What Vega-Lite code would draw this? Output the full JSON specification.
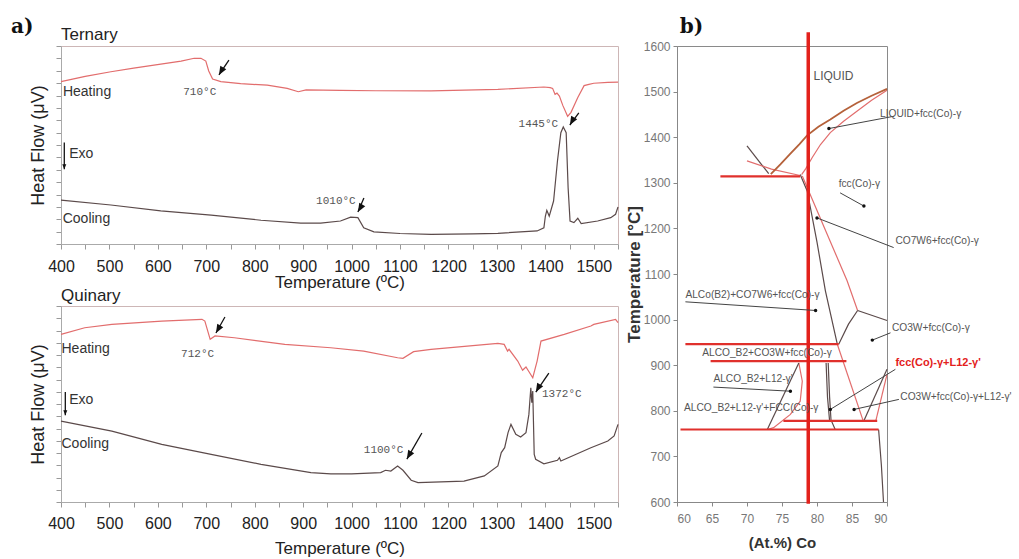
{
"$schema": "https://vega.github.io/schema/vega-lite/v6.json",
"padding": {"left": 10, "top": 16, "right": 2, "bottom": 2},
"spacing": 3,
"config": {"font": "Liberation Sans", "axis": {"grid": false}},
"datasets": {
"tern": [
{"T":400,"v":82.0,"run":"heating"},{"T":450,"v":84.7,"run":"heating"},{"T":503,"v":87.0,"run":"heating"},{"T":550,"v":88.8,"run":"heating"},{"T":606,"v":90.8,"run":"heating"},{"T":648,"v":92.4,"run":"heating"},{"T":675,"v":93.8,"run":"heating"},{"T":689,"v":93.8,"run":"heating"},{"T":699,"v":92.4,"run":"heating"},{"T":705,"v":87.4,"run":"heating"},{"T":713,"v":83.3,"run":"heating"},{"T":730,"v":82.0,"run":"heating"},{"T":771,"v":81.0,"run":"heating"},{"T":826,"v":80.2,"run":"heating"},{"T":867,"v":78.6,"run":"heating"},{"T":890,"v":76.9,"run":"heating"},{"T":906,"v":77.8,"run":"heating"},{"T":976,"v":77.6,"run":"heating"},{"T":1050,"v":77.4,"run":"heating"},{"T":1164,"v":77.3,"run":"heating"},{"T":1302,"v":78.1,"run":"heating"},{"T":1397,"v":79.3,"run":"heating"},{"T":1410,"v":79.0,"run":"heating"},{"T":1415,"v":78.6,"run":"heating"},{"T":1420,"v":75.6,"run":"heating"},{"T":1424,"v":76.2,"run":"heating"},{"T":1429,"v":74.7,"run":"heating"},{"T":1436,"v":70.0,"run":"heating"},{"T":1446,"v":64.5,"run":"heating"},{"T":1453,"v":66.5,"run":"heating"},{"T":1467,"v":74.0,"run":"heating"},{"T":1480,"v":80.0,"run":"heating"},{"T":1490,"v":80.6,"run":"heating"},{"T":1500,"v":81.2,"run":"heating"},{"T":1529,"v":81.6,"run":"heating"},{"T":1550,"v":81.8,"run":"heating"},
{"T":400,"v":22.2,"run":"cooling"},{"T":503,"v":19.7,"run":"cooling"},{"T":606,"v":16.7,"run":"cooling"},{"T":710,"v":14.6,"run":"cooling"},{"T":813,"v":12.0,"run":"cooling"},{"T":895,"v":10.5,"run":"cooling"},{"T":936,"v":10.5,"run":"cooling"},{"T":977,"v":11.6,"run":"cooling"},{"T":998,"v":13.6,"run":"cooling"},{"T":1013,"v":13.3,"run":"cooling"},{"T":1025,"v":8.2,"run":"cooling"},{"T":1046,"v":6.1,"run":"cooling"},{"T":1100,"v":5.3,"run":"cooling"},{"T":1164,"v":4.9,"run":"cooling"},{"T":1250,"v":5.1,"run":"cooling"},{"T":1302,"v":5.4,"run":"cooling"},{"T":1383,"v":6.6,"run":"cooling"},{"T":1397,"v":8.2,"run":"cooling"},{"T":1400,"v":14.0,"run":"cooling"},{"T":1403,"v":17.0,"run":"cooling"},{"T":1408,"v":14.1,"run":"cooling"},{"T":1417,"v":21.7,"run":"cooling"},{"T":1425,"v":41.9,"run":"cooling"},{"T":1432,"v":56.2,"run":"cooling"},{"T":1437,"v":59.1,"run":"cooling"},{"T":1443,"v":56.2,"run":"cooling"},{"T":1447,"v":28.4,"run":"cooling"},{"T":1451,"v":11.6,"run":"cooling"},{"T":1459,"v":10.8,"run":"cooling"},{"T":1467,"v":13.0,"run":"cooling"},{"T":1474,"v":10.3,"run":"cooling"},{"T":1508,"v":11.6,"run":"cooling"},{"T":1535,"v":13.3,"run":"cooling"},{"T":1545,"v":15.0,"run":"cooling"},{"T":1550,"v":18.7,"run":"cooling"}
],
"quin": [
{"T":400,"v":85.5,"run":"heating"},{"T":449,"v":88.9,"run":"heating"},{"T":505,"v":90.6,"run":"heating"},{"T":608,"v":92.3,"run":"heating"},{"T":691,"v":93.2,"run":"heating"},{"T":697,"v":92.3,"run":"heating"},{"T":708,"v":83.0,"run":"heating"},{"T":718,"v":84.7,"run":"heating"},{"T":758,"v":83.8,"run":"heating"},{"T":862,"v":80.4,"run":"heating"},{"T":957,"v":78.7,"run":"heating"},{"T":1025,"v":77.0,"run":"heating"},{"T":1095,"v":73.6,"run":"heating"},{"T":1106,"v":73.3,"run":"heating"},{"T":1128,"v":76.7,"run":"heating"},{"T":1164,"v":77.9,"run":"heating"},{"T":1302,"v":80.9,"run":"heating"},{"T":1315,"v":80.4,"run":"heating"},{"T":1322,"v":77.0,"run":"heating"},{"T":1325,"v":77.9,"run":"heating"},{"T":1343,"v":71.9,"run":"heating"},{"T":1353,"v":67.2,"run":"heating"},{"T":1360,"v":68.9,"run":"heating"},{"T":1374,"v":63.4,"run":"heating"},{"T":1383,"v":71.9,"run":"heating"},{"T":1391,"v":82.1,"run":"heating"},{"T":1439,"v":85.5,"run":"heating"},{"T":1494,"v":89.8,"run":"heating"},{"T":1500,"v":90.6,"run":"heating"},{"T":1545,"v":93.2,"run":"heating"},{"T":1550,"v":91.5,"run":"heating"},
{"T":400,"v":41.3,"run":"cooling"},{"T":505,"v":36.2,"run":"cooling"},{"T":608,"v":29.4,"run":"cooling"},{"T":710,"v":24.3,"run":"cooling"},{"T":813,"v":19.2,"run":"cooling"},{"T":916,"v":15.0,"run":"cooling"},{"T":957,"v":14.4,"run":"cooling"},{"T":1000,"v":14.3,"run":"cooling"},{"T":1060,"v":15.0,"run":"cooling"},{"T":1070,"v":16.2,"run":"cooling"},{"T":1081,"v":15.8,"run":"cooling"},{"T":1095,"v":18.4,"run":"cooling"},{"T":1106,"v":16.2,"run":"cooling"},{"T":1123,"v":11.1,"run":"cooling"},{"T":1137,"v":9.9,"run":"cooling"},{"T":1232,"v":10.7,"run":"cooling"},{"T":1274,"v":13.3,"run":"cooling"},{"T":1302,"v":18.4,"run":"cooling"},{"T":1309,"v":25.2,"run":"cooling"},{"T":1316,"v":27.7,"run":"cooling"},{"T":1323,"v":35.4,"run":"cooling"},{"T":1329,"v":39.6,"run":"cooling"},{"T":1339,"v":34.5,"run":"cooling"},{"T":1349,"v":33.2,"run":"cooling"},{"T":1360,"v":35.4,"run":"cooling"},{"T":1366,"v":44.7,"run":"cooling"},{"T":1370,"v":58.3,"run":"cooling"},{"T":1372,"v":50.7,"run":"cooling"},{"T":1374,"v":56.6,"run":"cooling"},{"T":1377,"v":24.3,"run":"cooling"},{"T":1380,"v":21.8,"run":"cooling"},{"T":1397,"v":19.5,"run":"cooling"},{"T":1425,"v":21.3,"run":"cooling"},{"T":1429,"v":22.6,"run":"cooling"},{"T":1432,"v":20.9,"run":"cooling"},{"T":1494,"v":27.7,"run":"cooling"},{"T":1529,"v":31.1,"run":"cooling"},{"T":1542,"v":33.7,"run":"cooling"},{"T":1550,"v":39.6,"run":"cooling"}
],
"tern_arr": [
{"T":726.1,"v":85.4,"T2":746.7,"v2":92.9,"k":"p"},{"T":1013,"v":16.2,"T2":1025.4,"v2":23.2,"k":"p"},{"T":1450.6,"v":60.1,"T2":1469.1,"v2":66.2,"k":"p"},{"T":406.8,"v":37.7,"T2":406.8,"v2":51.2,"k":"e"}
],
"quin_arr": [
{"T":719.9,"v":86.2,"T2":738.5,"v2":94.4,"k":"p"},{"T":1114.1,"v":21.9,"T2":1145.1,"v2":35.2,"k":"p"},{"T":1380.4,"v":56.1,"T2":1407.2,"v2":65.8,"k":"p"},{"T":408.9,"v":44.2,"T2":408.9,"v2":56.1,"k":"e"}
],
"tern_txt": [
{"T":404,"v":76.6,"text":"Heating","k":"s"},{"T":403.5,"v":12.6,"text":"Cooling","k":"s"},{"T":417,"v":45.5,"text":"Exo","k":"s"},
{"T":686.5,"v":76.9,"text":"710°C","k":"t"},{"T":967.6,"v":21.5,"text":"1010°C","k":"t"},{"T":1385.5,"v":60.5,"text":"1445°C","k":"t"},
{"T":400,"v":102.8,"text":"Ternary","k":"h"},{"T":296.8,"v":106.6,"text":"a)","k":"l"}
],
"quin_txt": [
{"T":401,"v":77.9,"text":"Heating","k":"s"},{"T":401,"v":29.8,"text":"Cooling","k":"s"},{"T":417,"v":51.8,"text":"Exo","k":"s"},
{"T":682,"v":75.5,"text":"712°C","k":"t"},{"T":1066,"v":26.5,"text":"1100°C","k":"t"},{"T":1434,"v":54.9,"text":"1372°C","k":"t"},
{"T":400,"v":102.3,"text":"Quinary","k":"h"}
],
"pd": [
{"s":"liq","kind":"liq","i":0,"x":73.4,"y":1319},{"s":"liq","kind":"liq","i":1,"x":74.8,"y":1341},{"s":"liq","kind":"liq","i":2,"x":76.2,"y":1364},{"s":"liq","kind":"liq","i":3,"x":77.5,"y":1385},{"s":"liq","kind":"liq","i":4,"x":78.6,"y":1404},{"s":"liq","kind":"liq","i":5,"x":80.2,"y":1423},{"s":"liq","kind":"liq","i":6,"x":81.9,"y":1439},{"s":"liq","kind":"liq","i":7,"x":83.8,"y":1458},{"s":"liq","kind":"liq","i":8,"x":85.7,"y":1475},{"s":"liq","kind":"liq","i":9,"x":87.8,"y":1491},{"s":"liq","kind":"liq","i":10,"x":90,"y":1506},
{"s":"sol","kind":"sol","i":0,"x":77.8,"y":1318},{"s":"sol","kind":"sol","i":1,"x":78.4,"y":1331},{"s":"sol","kind":"sol","i":2,"x":79.3,"y":1355},{"s":"sol","kind":"sol","i":3,"x":80.5,"y":1384},{"s":"sol","kind":"sol","i":4,"x":81.9,"y":1410},{"s":"sol","kind":"sol","i":5,"x":83.8,"y":1435},{"s":"sol","kind":"sol","i":6,"x":85.7,"y":1457},{"s":"sol","kind":"sol","i":7,"x":87.8,"y":1481},{"s":"sol","kind":"sol","i":8,"x":90,"y":1503},
{"s":"g1","kind":"gray","i":0,"x":70,"y":1381},{"s":"g1","kind":"gray","i":1,"x":73.1,"y":1320},
{"s":"g2","kind":"gray","i":0,"x":77.6,"y":1318},{"s":"g2","kind":"gray","i":1,"x":78.6,"y":1282},{"s":"g2","kind":"gray","i":2,"x":80.0,"y":1170},{"s":"g2","kind":"gray","i":3,"x":81.2,"y":1063},{"s":"g2","kind":"gray","i":4,"x":82.9,"y":946},
{"s":"g3","kind":"gray","i":0,"x":88.8,"y":759},{"s":"g3","kind":"gray","i":1,"x":89.2,"y":680},{"s":"g3","kind":"gray","i":2,"x":89.5,"y":600},
{"s":"g4","kind":"gray","i":0,"x":81.3,"y":905},{"s":"g4","kind":"gray","i":1,"x":81.5,"y":830},{"s":"g4","kind":"gray","i":2,"x":81.8,"y":778},
{"s":"r1","kind":"red","i":0,"x":70,"y":1348},{"s":"r1","kind":"red","i":1,"x":73.5,"y":1330},{"s":"r1","kind":"red","i":2,"x":77.6,"y":1316},
{"s":"r2","kind":"red","i":0,"x":77.9,"y":1315},{"s":"r2","kind":"red","i":1,"x":81.1,"y":1200},{"s":"r2","kind":"red","i":2,"x":84.3,"y":1085},{"s":"r2","kind":"red","i":3,"x":85.8,"y":1020},
{"s":"r3","kind":"red","i":0,"x":77.4,"y":905},{"s":"r3","kind":"red","i":1,"x":77.9,"y":865},{"s":"r3","kind":"red","i":2,"x":77.6,"y":821},{"s":"r3","kind":"red","i":3,"x":76.2,"y":792},{"s":"r3","kind":"red","i":4,"x":73.8,"y":763},{"s":"r3","kind":"red","i":5,"x":72.9,"y":759},
{"s":"p1","kind":"pink","i":0,"x":86.7,"y":778},{"s":"p1","kind":"pink","i":1,"x":90,"y":891},
{"s":"r5","kind":"red","i":0,"x":88.4,"y":778},{"s":"r5","kind":"red","i":1,"x":90,"y":880},
{"s":"y1","kind":"yg","i":0,"x":72.9,"y":759},{"s":"y1","kind":"yg","i":1,"x":77.4,"y":905},
{"s":"y2","kind":"yg","i":0,"x":81.6,"y":905},{"s":"y2","kind":"yg","i":1,"x":81.8,"y":830},{"s":"y2","kind":"yg","i":2,"x":82.0,"y":780},{"s":"y2","kind":"yg","i":3,"x":82.6,"y":759},
{"s":"y3","kind":"yg","i":0,"x":83.1,"y":946},{"s":"y3","kind":"yg","i":1,"x":84.5,"y":990},{"s":"y3","kind":"yg","i":2,"x":85.8,"y":1020},
{"s":"y4","kind":"yg","i":0,"x":85.8,"y":1020},{"s":"y4","kind":"yg","i":1,"x":90,"y":998},
{"s":"b1","kind":"blue","i":0,"x":82.9,"y":946},{"s":"b1","kind":"blue","i":1,"x":86.6,"y":778}
],
"pd_iso": [
{"s":"h1","x":66.2,"y":1314},{"s":"h1","x":77.6,"y":1314},
{"s":"h2","x":61.2,"y":946},{"s":"h2","x":83.1,"y":946},
{"s":"h3","x":64.8,"y":909},{"s":"h3","x":84.2,"y":909},
{"s":"h4","x":75.2,"y":778},{"s":"h4","x":88.6,"y":778},
{"s":"h5","x":60.5,"y":759},{"s":"h5","x":88.8,"y":759}
],
"pd_vert": [{"x":78.75,"y":596},{"x":78.75,"y":1630}],
"pd_lead": [
{"x":81.7,"y":1419,"x2":91,"y2":1446},{"x":86.7,"y":1249,"x2":83.3,"y2":1278},{"x":80,"y":1223,"x2":90.95,"y2":1158},{"x":79.8,"y":1020,"x2":61.2,"y2":1039},{"x":87.9,"y":955,"x2":90.5,"y2":971},{"x":81.9,"y":803,"x2":91.2,"y2":891},{"x":76.2,"y":843,"x2":65.2,"y2":852},{"x":85.3,"y":803,"x2":91.7,"y2":825}
],
"pd_txt": [
{"x":79.5,"y":1534,"text":"LIQUID","k":"L"},
{"x":89.0,"y":1450,"text":"LIQUID+fcc(Co)-γ","k":"n"},{"x":83.1,"y":1297,"text":"fcc(Co)-γ","k":"n"},{"x":91.2,"y":1172,"text":"CO7W6+fcc(Co)-γ","k":"n"},{"x":61.2,"y":1054,"text":"ALCo(B2)+CO7W6+fcc(Co)-γ","k":"n"},{"x":90.7,"y":982,"text":"CO3W+fcc(Co)-γ","k":"n"},{"x":63.6,"y":927,"text":"ALCO_B2+CO3W+fcc(Co)-γ","k":"n"},{"x":65.2,"y":869,"text":"ALCO_B2+L12-γ'","k":"n"},{"x":61,"y":807,"text":"ALCO_B2+L12-γ'+FCC(Co)-γ","k":"n"},{"x":91.9,"y":830,"text":"CO3W+fcc(Co)-γ+L12-γ'","k":"n"},
{"x":91.2,"y":905,"text":"fcc(Co)-γ+L12-γ'","k":"r"},
{"x":60.4,"y":1628.5,"text":"b)","k":"b"}
]
},
"hconcat": [
{"vconcat": [
 {"width": 557, "height": 198, "view": {"stroke": "#cdb6b6"},
  "encoding": {
   "x": {"field": "T", "type": "quantitative", "scale": {"domain": [400, 1550], "nice": false, "zero": false},
     "axis": {"title": "Temperature (ºC)", "values": [400,450,500,550,600,650,700,750,800,850,900,950,1000,1050,1100,1150,1200,1250,1300,1350,1400,1450,1500,1550], "format": "d", "labelExpr": "datum.value % 100 === 0 ? datum.label : ''", "labelOverlap": false, "labelFlush": false, "labelBound": false, "labelFontSize": 16, "labelColor": "#222", "labelPadding": 9, "tickSize": 5, "tickColor": "#999", "domainColor": "#aaa", "titleFontSize": 17, "titleFontWeight": "normal", "titleColor": "#222", "titlePadding": 0}},
   "y": {"field": "v", "type": "quantitative", "scale": {"domain": [0, 100], "nice": false, "zero": false},
     "axis": {"title": "Heat Flow (μV)", "labels": false, "values": [0,6.25,12.5,18.75,25,31.25,37.5,43.75,50,56.25,62.5,68.75,75,81.25,87.5,93.75,100], "tickSize": 5, "tickColor": "#999", "domainColor": "#aaa", "titleFontSize": 18, "titleFontWeight": "normal", "titleColor": "#222", "titlePadding": 8}}
  },
  "layer": [
   {"data": {"name": "tern"}, "mark": {"type": "line", "strokeWidth": 1.2},
    "encoding": {"color": {"field": "run", "type": "nominal", "scale": {"domain": ["heating", "cooling"], "range": ["#e26d6d", "#5b4a4a"]}, "legend": null}}},
   {"data": {"name": "tern_arr"}, "mark": {"type": "rule", "color": "#111", "strokeWidth": 1.3},
    "encoding": {"x2": {"field": "T2"}, "y2": {"field": "v2"}}},
   {"data": {"name": "tern_arr"}, "transform": [{"filter": "datum.k === 'p'"}], "mark": {"type": "point", "shape": "M0,0L0.4,1L-0.4,1Z", "filled": true, "color": "#111", "opacity": 1, "size": 300, "angle": 210}},
   {"data": {"name": "tern_arr"}, "transform": [{"filter": "datum.k === 'e'"}], "mark": {"type": "point", "shape": "M0,0L0.4,1L-0.4,1Z", "filled": true, "color": "#111", "opacity": 1, "size": 100, "angle": 180}},
   {"data": {"name": "tern_txt"}, "transform": [{"filter": "datum.k === 's'"}], "mark": {"type": "text", "align": "left", "baseline": "middle", "fontSize": 14, "color": "#333"},
    "encoding": {"text": {"field": "text"}}},
   {"data": {"name": "tern_txt"}, "transform": [{"filter": "datum.k === 't'"}], "mark": {"type": "text", "align": "center", "baseline": "middle", "fontSize": 11, "font": "Liberation Mono", "color": "#555"},
    "encoding": {"text": {"field": "text"}}},
   {"data": {"name": "tern_txt"}, "transform": [{"filter": "datum.k === 'h'"}], "mark": {"type": "text", "align": "left", "baseline": "alphabetic", "fontSize": 17, "color": "#222", "clip": false},
    "encoding": {"text": {"field": "text"}}},
   {"data": {"name": "tern_txt"}, "transform": [{"filter": "datum.k === 'l'"}], "mark": {"type": "text", "align": "left", "baseline": "alphabetic", "fontSize": 20, "font": "DejaVu Serif", "fontWeight": "bold", "color": "#111", "clip": false},
    "encoding": {"text": {"field": "text"}}}
  ]},
 {"width": 557, "height": 196, "view": {"stroke": "#cdb6b6"},
  "encoding": {
   "x": {"field": "T", "type": "quantitative", "scale": {"domain": [400, 1550], "nice": false, "zero": false},
     "axis": {"title": "Temperature (ºC)", "values": [400,450,500,550,600,650,700,750,800,850,900,950,1000,1050,1100,1150,1200,1250,1300,1350,1400,1450,1500,1550], "format": "d", "labelExpr": "datum.value % 100 === 0 ? datum.label : ''", "labelOverlap": false, "labelFlush": false, "labelBound": false, "labelFontSize": 16, "labelColor": "#222", "labelPadding": 8, "tickSize": 5, "tickColor": "#999", "domainColor": "#aaa", "titleFontSize": 17, "titleFontWeight": "normal", "titleColor": "#222", "titlePadding": 9}},
   "y": {"field": "v", "type": "quantitative", "scale": {"domain": [0, 100], "nice": false, "zero": false},
     "axis": {"title": "Heat Flow (μV)", "labels": false, "values": [0,6.25,12.5,18.75,25,31.25,37.5,43.75,50,56.25,62.5,68.75,75,81.25,87.5,93.75,100], "tickSize": 5, "tickColor": "#999", "domainColor": "#aaa", "titleFontSize": 18, "titleFontWeight": "normal", "titleColor": "#222", "titlePadding": 8}}
  },
  "layer": [
   {"data": {"name": "quin"}, "mark": {"type": "line", "strokeWidth": 1.2},
    "encoding": {"color": {"field": "run", "type": "nominal", "scale": {"domain": ["heating", "cooling"], "range": ["#e26d6d", "#5b4a4a"]}, "legend": null}}},
   {"data": {"name": "quin_arr"}, "mark": {"type": "rule", "color": "#111", "strokeWidth": 1.3},
    "encoding": {"x2": {"field": "T2"}, "y2": {"field": "v2"}}},
   {"data": {"name": "quin_arr"}, "transform": [{"filter": "datum.k === 'p'"}], "mark": {"type": "point", "shape": "M0,0L0.4,1L-0.4,1Z", "filled": true, "color": "#111", "opacity": 1, "size": 300, "angle": 210}},
   {"data": {"name": "quin_arr"}, "transform": [{"filter": "datum.k === 'e'"}], "mark": {"type": "point", "shape": "M0,0L0.4,1L-0.4,1Z", "filled": true, "color": "#111", "opacity": 1, "size": 100, "angle": 180}},
   {"data": {"name": "quin_txt"}, "transform": [{"filter": "datum.k === 's'"}], "mark": {"type": "text", "align": "left", "baseline": "middle", "fontSize": 14, "color": "#333"},
    "encoding": {"text": {"field": "text"}}},
   {"data": {"name": "quin_txt"}, "transform": [{"filter": "datum.k === 't'"}], "mark": {"type": "text", "align": "center", "baseline": "middle", "fontSize": 11, "font": "Liberation Mono", "color": "#555"},
    "encoding": {"text": {"field": "text"}}},
   {"data": {"name": "quin_txt"}, "transform": [{"filter": "datum.k === 'h'"}], "mark": {"type": "text", "align": "left", "baseline": "alphabetic", "fontSize": 17, "color": "#222", "clip": false},
    "encoding": {"text": {"field": "text"}}}
  ]}
 ], "spacing": 62, "bounds": "flush"},
{"width": 210, "height": 456, "view": {"stroke": "#8a8a8a"},
 "encoding": {
  "x": {"field": "x", "type": "quantitative", "scale": {"domain": [60, 90], "nice": false, "zero": false},
    "axis": {"title": "(At.%) Co", "values": [60,65,70,75,80,85,90], "labelFontSize": 12, "labelColor": "#777", "labelPadding": 7, "tickSize": 4, "tickColor": "#888", "domainColor": "#888", "titleFontSize": 15, "titleFontWeight": "bold", "titleColor": "#333", "titlePadding": 11}},
  "y": {"field": "y", "type": "quantitative", "scale": {"domain": [600, 1600], "nice": false, "zero": false},
    "axis": {"title": "Temperature [°C]", "values": [600,700,800,900,1000,1100,1200,1300,1400,1500,1600], "format": "d", "labelFontSize": 12, "labelColor": "#777", "labelPadding": 3, "tickSize": 4, "tickColor": "#888", "domainColor": "#888", "titleFontSize": 17, "titleFontWeight": "bold", "titleColor": "#333", "titlePadding": 0}}
 },
 "layer": [
  {"data": {"name": "pd"}, "transform": [{"filter": "datum.kind !== 'liq'"}], "mark": {"type": "line", "strokeWidth": 1.2, "clip": false},
   "encoding": {
    "color": {"field": "kind", "type": "nominal", "scale": {"domain": ["sol", "gray", "red", "yg", "blue", "pink"], "range": ["#b886d8", "#8c8282", "#e65a5a", "#c9c46a", "#88b8da", "#e8709a"]}, "legend": null},
    "detail": {"field": "s"},
    "order": {"field": "i", "type": "quantitative"}
   }},
  {"data": {"name": "pd"}, "transform": [{"filter": "datum.kind === 'liq'"}], "mark": {"type": "line", "strokeWidth": 1.8, "color": "#b5613a", "clip": false},
   "encoding": {"order": {"field": "i", "type": "quantitative"}}},
  {"data": {"name": "pd_iso"}, "mark": {"type": "line", "strokeWidth": 2.2, "color": "#e0302c", "clip": false},
   "encoding": {"detail": {"field": "s"}}},
  {"data": {"name": "pd_vert"}, "mark": {"type": "line", "strokeWidth": 3.5, "color": "#e3211c", "clip": false},
   "encoding": {}},
  {"data": {"name": "pd_lead"}, "mark": {"type": "rule", "color": "#444", "strokeWidth": 1, "clip": false},
   "encoding": {"x2": {"field": "x2"}, "y2": {"field": "y2"}}},
  {"data": {"name": "pd_lead"}, "mark": {"type": "point", "filled": true, "color": "#111", "opacity": 1, "size": 12}},
  {"data": {"name": "pd_txt"}, "transform": [{"filter": "datum.k === 'n'"}], "mark": {"type": "text", "align": "left", "baseline": "middle", "fontSize": 10.2, "color": "#555", "clip": false},
   "encoding": {"text": {"field": "text"}}},
  {"data": {"name": "pd_txt"}, "transform": [{"filter": "datum.k === 'L'"}], "mark": {"type": "text", "align": "left", "baseline": "middle", "fontSize": 12, "color": "#555", "clip": false},
   "encoding": {"text": {"field": "text"}}},
  {"data": {"name": "pd_txt"}, "transform": [{"filter": "datum.k === 'r'"}], "mark": {"type": "text", "align": "left", "baseline": "middle", "fontSize": 11, "fontWeight": "bold", "color": "#e3211c", "clip": false},
   "encoding": {"text": {"field": "text"}}},
  {"data": {"name": "pd_txt"}, "transform": [{"filter": "datum.k === 'b'"}], "mark": {"type": "text", "align": "left", "baseline": "alphabetic", "fontSize": 20, "font": "DejaVu Serif", "fontWeight": "bold", "color": "#111", "clip": false},
   "encoding": {"text": {"field": "text"}}}
 ]}
]
}
